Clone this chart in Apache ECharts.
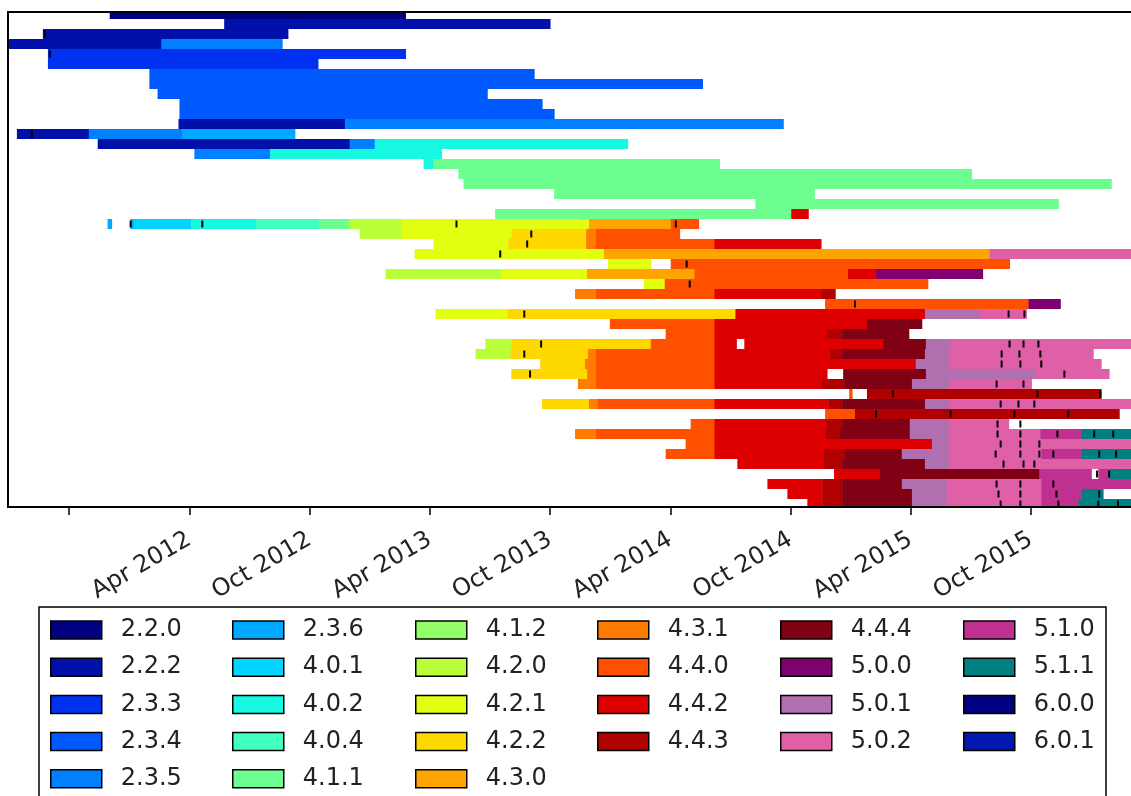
<!DOCTYPE html>
<html>
<head>
<meta charset="utf-8">
<script src="https://cdn.jsdelivr.net/npm/echarts@6/dist/echarts.min.js"></script>
<style>html,body{margin:0;padding:0;background:#fff}#c{width:1131px;height:796px}</style>
</head>
<body>
<div id="c"></div>
<script>
// ---- data (dates as decimal years, rows top to bottom) ----
const versions = ['2.2.0','2.2.2','2.3.3','2.3.4','2.3.5','2.3.6','4.0.1','4.0.2','4.0.4','4.1.1','4.1.2','4.2.0','4.2.1','4.2.2','4.3.0','4.3.1','4.4.0','4.4.2','4.4.3','4.4.4','5.0.0','5.0.1','5.0.2','5.1.0','5.1.1','6.0.0','6.0.1'];

// each segment: [row, start, end]
const s220 = [[0,2011.919,2013.149]];
const s222 = [[1,2012.395,2013.750],[2,2011.641,2012.660],[3,2011.45,2012.134],[11,2012.205,2012.897],[12,2011.533,2011.832],[13,2011.869,2012.917]];
const s233 = [[4,2011.662,2013.149],[5,2011.662,2012.785]];
const s234 = [[6,2012.084,2013.684],[7,2012.084,2014.384],[8,2012.118,2013.489],[9,2012.209,2013.717],[10,2012.209,2013.767]];
const s235 = [[3,2012.134,2012.636],[11,2012.897,2014.720],[12,2011.832,2012.221],[13,2012.917,2013.021],[14,2012.271,2012.586]];
const s236 = [[12,2012.221,2012.689],[21,2011.910,2011.927],[21,2012.006,2012.018]];
const s401 = [[21,2012.018,2012.258]];
const s402 = [[13,2013.021,2014.073],[14,2012.586,2013.299],[15,2013.224,2013.265],[21,2012.258,2012.528]];
const s404 = [[21,2012.528,2012.789]];
const s411 = [[15,2013.265,2014.455],[16,2013.369,2015.503],[17,2013.390,2016.084],[18,2013.767,2014.849],[19,2014.604,2015.864],[20,2013.522,2014.753],[21,2012.789,2012.913]];
const s412 = [];
const s420 = [[21,2012.913,2013.133],[22,2012.959,2013.133],[26,2013.066,2013.547],[33,2013.481,2013.589],[34,2013.440,2013.585]];
const s421 = [[21,2013.133,2013.912],[22,2013.133,2013.589],[23,2013.265,2013.576],[24,2013.187,2013.974],[25,2013.991,2014.169],[26,2013.547,2013.904],[27,2014.140,2014.227],[30,2013.274,2013.572]];
const s422 = [[22,2013.589,2013.900],[23,2013.576,2013.900],[30,2013.572,2014.521],[33,2013.589,2014.169],[34,2013.585,2013.908],[35,2013.709,2013.895],[36,2013.589,2013.904],[39,2013.717,2013.912]];
const s430 = [[21,2013.912,2014.252],[24,2013.974,2015.578],[26,2013.904,2014.351]];
const s431 = [[22,2013.900,2013.941],[23,2013.900,2013.941],[28,2013.854,2013.941],[34,2013.908,2013.941],[35,2013.895,2013.941],[36,2013.904,2013.941],[37,2013.866,2013.941],[39,2013.912,2013.949],[42,2013.854,2013.941]];
const s440 = [[21,2014.252,2014.368],[22,2013.941,2014.289],[23,2013.941,2014.434],[25,2014.252,2015.661],[26,2014.351,2014.989],[27,2014.227,2015.321],[28,2013.941,2014.434],[29,2014.894,2015.740],[31,2013.999,2014.434],[32,2014.231,2014.434],[33,2014.169,2014.434],[34,2013.941,2014.434],[35,2013.941,2014.434],[36,2013.941,2014.434],[37,2013.941,2014.434],[38,2014.994,2015.006],[39,2013.949,2014.434],[40,2014.894,2015.018],[41,2014.335,2014.434],[42,2013.941,2014.434],[43,2014.314,2014.434],[44,2014.231,2014.434]];
const s442 = [[20,2014.753,2014.824],[23,2014.434,2014.877],[26,2014.989,2015.106],[28,2014.434,2014.877],[30,2014.521,2015.309],[31,2014.434,2015.068],[32,2014.434,2014.902],[33,2014.434,2014.525],[33,2014.558,2015.135],[34,2014.434,2014.911],[35,2014.434,2015.271],[36,2014.434,2014.902],[37,2014.434,2014.877],[39,2014.434,2014.907],[41,2014.434,2014.898],[42,2014.434,2014.894],[43,2014.434,2015.338],[44,2014.434,2014.886],[45,2014.529,2014.886],[46,2014.931,2015.122],[47,2014.654,2014.882],[48,2014.737,2014.882],[49,2014.820,2014.882]];
const s443 = [[28,2014.877,2014.936],[32,2014.902,2014.965],[34,2014.911,2014.965],[37,2014.877,2014.973],[38,2015.068,2016.042],[39,2014.907,2014.965],[40,2015.018,2016.117],[41,2014.898,2014.965],[42,2014.894,2014.956],[44,2014.886,2014.973],[45,2014.886,2014.965],[47,2014.882,2014.965],[48,2014.882,2014.965],[49,2014.882,2014.965]];
const s444 = [[31,2015.068,2015.296],[32,2014.965,2015.242],[33,2015.135,2015.313],[34,2014.965,2015.309],[36,2014.969,2015.313],[37,2014.973,2015.255],[39,2014.965,2015.309],[41,2014.965,2015.246],[42,2014.956,2015.246],[44,2014.973,2015.213],[45,2014.965,2015.309],[46,2015.122,2015.785],[47,2014.965,2015.213],[48,2014.965,2015.255],[49,2014.965,2015.255]];
const s500 = [[26,2015.106,2015.549],[29,2015.740,2015.872]];
const s501 = [[30,2015.309,2015.537],[33,2015.313,2015.416],[34,2015.309,2015.408],[35,2015.271,2015.408],[36,2015.313,2015.769],[37,2015.255,2015.408],[39,2015.309,2015.408],[41,2015.246,2015.408],[42,2015.246,2015.408],[43,2015.338,2015.408],[44,2015.213,2015.408],[45,2015.309,2015.408],[47,2015.213,2015.400],[48,2015.255,2015.400],[49,2015.255,2015.400]];
const s502 = [[24,2015.578,2016.2],[30,2015.537,2015.731],[33,2015.416,2016.2],[34,2015.408,2016.009],[35,2015.408,2016.042],[36,2015.769,2016.075],[37,2015.408,2015.752],[39,2015.408,2016.2],[41,2015.408,2015.657],[42,2015.408,2015.789],[43,2015.408,2016.2],[44,2015.408,2015.793],[45,2015.408,2016.2],[47,2015.400,2015.793],[48,2015.400,2015.793],[49,2015.400,2015.793]];
const s510 = [[42,2015.789,2015.959],[44,2015.793,2015.959],[46,2015.785,2016.001],[46,2016.030,2016.075],[47,2015.793,2016.2],[48,2015.793,2015.959],[49,2015.793,2015.947]];
const s511 = [[42,2015.959,2016.2],[44,2015.959,2016.2],[46,2016.075,2016.2],[48,2015.959,2016.050],[49,2015.947,2016.2]];
const s600 = [];
const s601 = [];

// event markers: [row, date]
const events = [[2,2011.649],[4,2011.670],[12,2011.595],
 [21,2012.006],[21,2012.304],[21,2013.361],[21,2014.273],
 [22,2013.672],[23,2013.655],[24,2013.543],[25,2014.318],[27,2014.331],[29,2015.018],
 [30,2013.643],[30,2015.657],[30,2015.723],
 [33,2013.713],[33,2015.661],[33,2015.719],[33,2015.781],
 [34,2013.643],[34,2015.628],[34,2015.702],[34,2015.789],
 [35,2015.628],[35,2015.706],[35,2015.793],
 [36,2013.667],[36,2015.889],
 [37,2015.607],[37,2015.719],
 [38,2015.176],[38,2015.777],[38,2016.038],
 [39,2015.624],[39,2015.698],[39,2015.764],
 [40,2015.106],[40,2015.416],[40,2015.681],[40,2015.905],
 [41,2015.611],[41,2015.706],
 [42,2015.611],[42,2015.706],[42,2015.860],[42,2016.013],[42,2016.092],
 [43,2015.624],[43,2015.706],[43,2015.785],
 [44,2015.603],[44,2015.706],[44,2015.785],[44,2015.843],[44,2016.034],[44,2016.104],
 [45,2015.636],[45,2015.719],[45,2015.764],
 [46,2016.025],[46,2016.075],
 [47,2015.607],[47,2015.706],[47,2015.843],
 [48,2015.615],[48,2015.706],[48,2015.856],[48,2016.034],
 [49,2015.624],[49,2015.706],[49,2015.864],[49,2016.030],[49,2016.112]];

const tickValues = [2011.75,2012.25,2012.75,2013.25,2013.75,2014.25,2014.75,2015.25,2015.75];
const labelValues = [2012.25,2012.75,2013.25,2013.75,2014.25,2014.75,2015.25,2015.75];
const tickLabels = ['Apr 2012','Oct 2012','Apr 2013','Oct 2013','Apr 2014','Oct 2014','Apr 2015','Oct 2015'];

// ---- styles ----
const colors = ['#000080','#0010a8','#0030f0','#0058ff','#0080ff','#00a8ff','#00d4ff','#16f8e0','#40ffc0','#6cff90','#90ff68','#b8ff3a','#e2ff12','#ffd800','#ffa400','#ff7c00','#ff5000','#de0000','#b00000','#800014','#800070','#b070b0','#e060a8','#c03090','#008080','#000080','#0018b0'];

const segs = [s220,s222,s233,s234,s235,s236,s401,s402,s404,s411,s412,s420,s421,s422,s430,s431,s440,s442,s443,s444,s500,s501,s502,s510,s511,s600,s601];

function renderSeg(params, api) {
  const r = api.value(0), s = api.value(1), e = api.value(2);
  const a = api.coord([s, r]), b = api.coord([e, r]);
  const h = api.size([0, 1])[1];
  const cs = params.coordSys;
  const shape = echarts.graphic.clipRectByRect(
    {x: a[0], y: a[1] - h / 2, width: b[0] - a[0] + 0.5, height: h},
    {x: cs.x, y: cs.y, width: cs.width, height: cs.height});
  return shape && {type: 'rect', shape: shape, style: {fill: api.visual('color')}};
}
function renderEvt(params, api) {
  const p = api.coord([api.value(1), api.value(0)]);
  return {type: 'line', shape: {x1: p[0], y1: p[1] - 3.5, x2: p[0], y2: p[1] + 3.5},
          style: {stroke: '#000', lineWidth: 2}};
}

const series = versions.map((v, i) => ({
  name: v, type: 'custom', renderItem: renderSeg, clip: true,
  itemStyle: {color: colors[i]},
  encode: {x: [1, 2], y: 0},
  data: segs[i]
}));
series.push({name: 'events', type: 'custom', renderItem: renderEvt, z: 5,
  encode: {x: 1, y: 0}, data: events});

const colStarts = [50, 232, 415, 597, 780, 963];
const colItems = [versions.slice(0,5), versions.slice(5,10), versions.slice(10,15), versions.slice(15,19), versions.slice(19,23), versions.slice(23,27)];
const legends = colItems.map((items, i) => ({
  orient: 'vertical', left: colStarts[i], top: 618, height: 220, padding: 0, itemGap: 13.2,
  itemWidth: 51, itemHeight: 18, selectedMode: false, icon: 'rect',
  itemStyle: {borderColor: '#000', borderWidth: 1.5},
  textStyle: {fontSize: 24, fontFamily: 'DejaVu Sans', color: '#222', padding: [0,0,0,14]},
  data: items
}));

const chart = echarts.init(document.getElementById('c'), null, {renderer: 'canvas'});
chart.setOption({
  animation: false,
  grid: {left: 8, right: -4, top: 12, bottom: 289, show: false},
  xAxis: {
    type: 'value', min: 2011.496, max: 2016.166, position: 'bottom',
    splitLine: {show: false}, axisLine: {show: false, onZero: false},
    axisTick: {show: true, customValues: tickValues, length: 8, lineStyle: {color: '#000', width: 1.5}},
    axisLabel: {customValues: labelValues, rotate: 30, margin: 31, fontSize: 24, fontFamily: 'DejaVu Sans', color: '#222',
      formatter: function (v) {
        let best = 0;
        for (let i = 1; i < labelValues.length; i++) if (Math.abs(labelValues[i] - v) < Math.abs(labelValues[best] - v)) best = i;
        return tickLabels[best];
      }}
  },
  yAxis: {type: 'value', inverse: true, min: -0.2, max: 49.3, show: false},
  legend: legends,
  graphic: [
    {type: 'rect', shape: {x: 8, y: 12, width: 1140, height: 495}, style: {fill: 'none', stroke: '#000', lineWidth: 2}, z: 100, silent: true},
    {type: 'rect', shape: {x: 39, y: 607, width: 1067, height: 240}, style: {fill: 'none', stroke: '#000', lineWidth: 1.5}, z: 100, silent: true}
  ],
  series: series
});
</script>
</body>
</html>
